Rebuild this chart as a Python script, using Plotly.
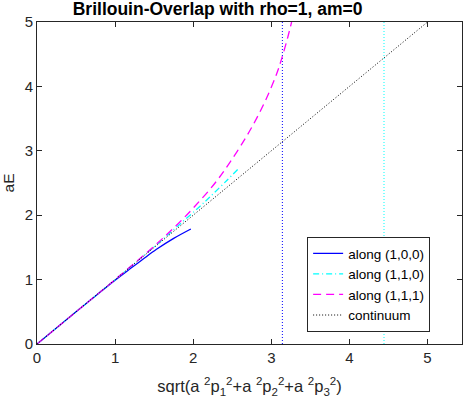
import plotly.graph_objects as go

# along (1,0,0)
p100 = [0, 0.5, 1.0, 1.2, 1.36, 1.53, 1.75, 1.97]
E100 = [0, 0.5, 0.99, 1.175, 1.32, 1.47, 1.64, 1.786]
# along (1,1,0)
p110 = [0, 0.5, 1.0, 1.5, 1.8, 2.07, 2.22, 2.43, 2.57]
E110 = [0, 0.5, 1.0, 1.51, 1.83, 2.12, 2.29, 2.54, 2.71]
# along (1,1,1)
p111 = [0, 0.5, 1.0, 1.5, 1.8, 2.03, 2.28, 2.47, 2.68, 2.81, 2.94, 3.07, 3.13, 3.21, 3.26]
E111 = [0, 0.5, 1.0, 1.52, 1.86, 2.15, 2.50, 2.82, 3.22, 3.50, 3.82, 4.20, 4.42, 4.76, 5.0]
# continuum
pc = [0, 5]
Ec = [0, 5]
# Brillouin zone edges
edge_x = [3.1416, 4.4429]
edge_colors = ["#0000ff", "#00ffff"]
xmax = 5.4414
ticks = [0, 1, 2, 3, 4, 5]

fig = go.Figure()
for ex, col in zip(edge_x, edge_colors):
    fig.add_trace(go.Scatter(x=[ex, ex], y=[0, 5], mode="lines", showlegend=False,
                             line=dict(color=col, width=1, dash="1px,2px"), hoverinfo="skip"))
fig.add_trace(go.Scatter(x=p100, y=E100, mode="lines", name="along (1,0,0)",
                         line=dict(color="#0000ff", width=1.3, shape="spline")))
fig.add_trace(go.Scatter(x=p110, y=E110, mode="lines", name="along (1,1,0)",
                         line=dict(color="#00ffff", width=1.3, dash="6px,3px,1px,3px", shape="spline")))
fig.add_trace(go.Scatter(x=p111, y=E111, mode="lines", name="along (1,1,1)",
                         line=dict(color="#ff00ff", width=1.3, dash="8px,5px", shape="spline")))
fig.add_trace(go.Scatter(x=pc, y=Ec, mode="lines", name="continuum",
                         line=dict(color="#000000", width=1, dash="1px,2px")))

axis_common = dict(showgrid=False, zeroline=False, showline=True, linecolor="#262626",
                   linewidth=1, mirror="ticks", ticks="inside", ticklen=5, automargin=False,
                   tickcolor="#262626", tickfont=dict(size=15, color="#262626"))
fig.update_layout(
    width=463, height=399,
    margin=dict(l=37, r=1, t=22, b=55),
    paper_bgcolor="white", plot_bgcolor="white",
    font=dict(family="Liberation Sans, Arial, sans-serif", size=15, color="#262626"),
    title=dict(text="<b>Brillouin-Overlap with rho=1, am=0</b>", x=0.47, xanchor="center",
               y=0.977, yanchor="middle", font=dict(size=17.5, color="#000000")),
    xaxis=dict(range=[0, xmax], tickvals=ticks,
               title=dict(text="sqrt(a <sup>2</sup>p<sub>1</sub><sup>2</sup>+a <sup>2</sup>p<sub>2</sub><sup>2</sup>+a <sup>2</sup>p<sub>3</sub><sup>2</sup>)",
                          font=dict(size=16.5)), **axis_common),
    yaxis=dict(range=[0, 5], tickvals=ticks, title=dict(text="aE", font=dict(size=15.5)),
               **axis_common),
    legend=dict(x=0.925, y=0.037, xanchor="right", yanchor="bottom",
                bgcolor="white", bordercolor="#262626", borderwidth=1,
                font=dict(size=13.5, color="#000000"), tracegroupgap=0),
    showlegend=True,
)
fig.write_html("out.html", config={"displayModeBar": False},
               post_script="document.body.style.margin='0';document.body.style.overflow='hidden';")
